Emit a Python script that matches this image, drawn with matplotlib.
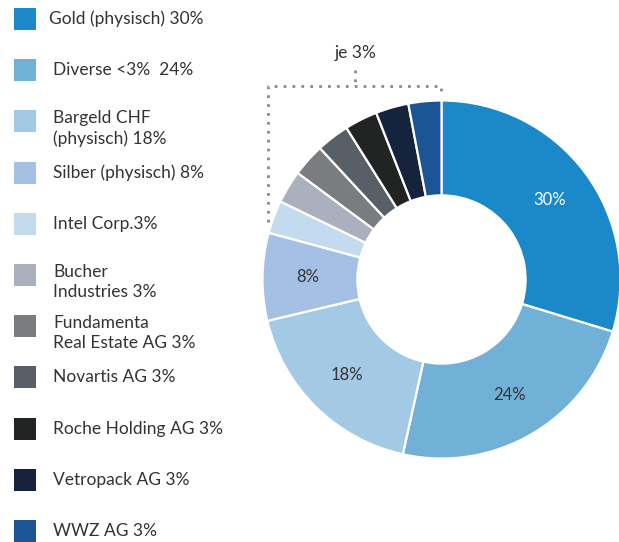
import matplotlib
matplotlib.use("Agg")
import matplotlib.pyplot as plt
import numpy as np

# data
labels = [
    "Gold (physisch) 30%",
    "Diverse <3%  24%",
    "Bargeld CHF\n(physisch) 18%",
    "Silber (physisch) 8%",
    "Intel Corp.3%",
    "Bucher\nIndustries 3%",
    "Fundamenta\nReal Estate AG 3%",
    "Novartis AG 3%",
    "Roche Holding AG 3%",
    "Vetropack AG 3%",
    "WWZ AG 3%",
]
shares = [30, 24, 18, 8, 3, 3, 3, 3, 3, 3, 3]
pct_labels = ["30%", "24%", "18%", "8%", "", "", "", "", "", "", ""]
colors = [
    "#1a88c9", "#72b1d7", "#a3c9e5", "#a4c0e5", "#c4daee", "#aab0bd",
    "#7b7c80", "#585f67", "#222423", "#15233d", "#1b5595",
]
pct_colors = ["white"] + ["#333333"] * 10
bracket_text = "je 3%"

W, H = 619, 542
plt.rcParams["font.family"] = ["Lato", "DejaVu Sans"]
fig = plt.figure(figsize=(W / 100, H / 100), dpi=100)

# overlay axes in pixel coordinates (y downwards)
ov = fig.add_axes([0, 0, 1, 1])
ov.set_xlim(0, W)
ov.set_ylim(H, 0)
ov.axis("off")

# donut
cx, cy, R = 441.5, 279.5, 179
ax = fig.add_axes([(cx - R) / W, (H - cy - R) / H, 2 * R / W, 2 * R / H])
wedges, _ = ax.pie(
    shares, colors=colors, startangle=90, counterclock=False,
    radius=1.0, wedgeprops=dict(width=0.53, edgecolor="white", linewidth=1.6),
)
ax.set_xlim(-1, 1)
ax.set_ylim(-1, 1)
ax.set_aspect("equal")

for w, txt, c in zip(wedges, pct_labels, pct_colors):
    if not txt:
        continue
    mid = np.deg2rad((w.theta1 + w.theta2) / 2)
    ax.text(0.75 * np.cos(mid), 0.75 * np.sin(mid), txt, ha="center",
            va="center", fontsize=12, color=c)

# legend
y0, step = 19, 51.2
txt_kw = dict(fontsize=12.5, color="#333333", ha="left")
for i, (lab, col) in enumerate(zip(labels, colors)):
    yc = y0 + i * step
    ov.add_patch(plt.Rectangle((14, yc - 11), 22, 22, color=col, lw=0))
    tx = 49 if i == 0 else 53
    if "\n" in lab:
        ov.text(tx, yc - 11, lab, va="top", linespacing=1.32, **txt_kw)
    else:
        ov.text(tx, yc, lab, va="center", **txt_kw)

# dotted bracket over the 3% slices
dot = dict(color="#8a8a8a", lw=2, ls=(0, (1, 2.2)))
ov.plot([268, 268, 441, 441], [222, 86, 86, 92], **dot)
ov.plot([355, 355], [70, 86], **dot)
ov.text(356, 53, bracket_text, ha="center", va="center", fontsize=12.5,
        color="#333333")

fig.savefig("out.png", dpi=100)
